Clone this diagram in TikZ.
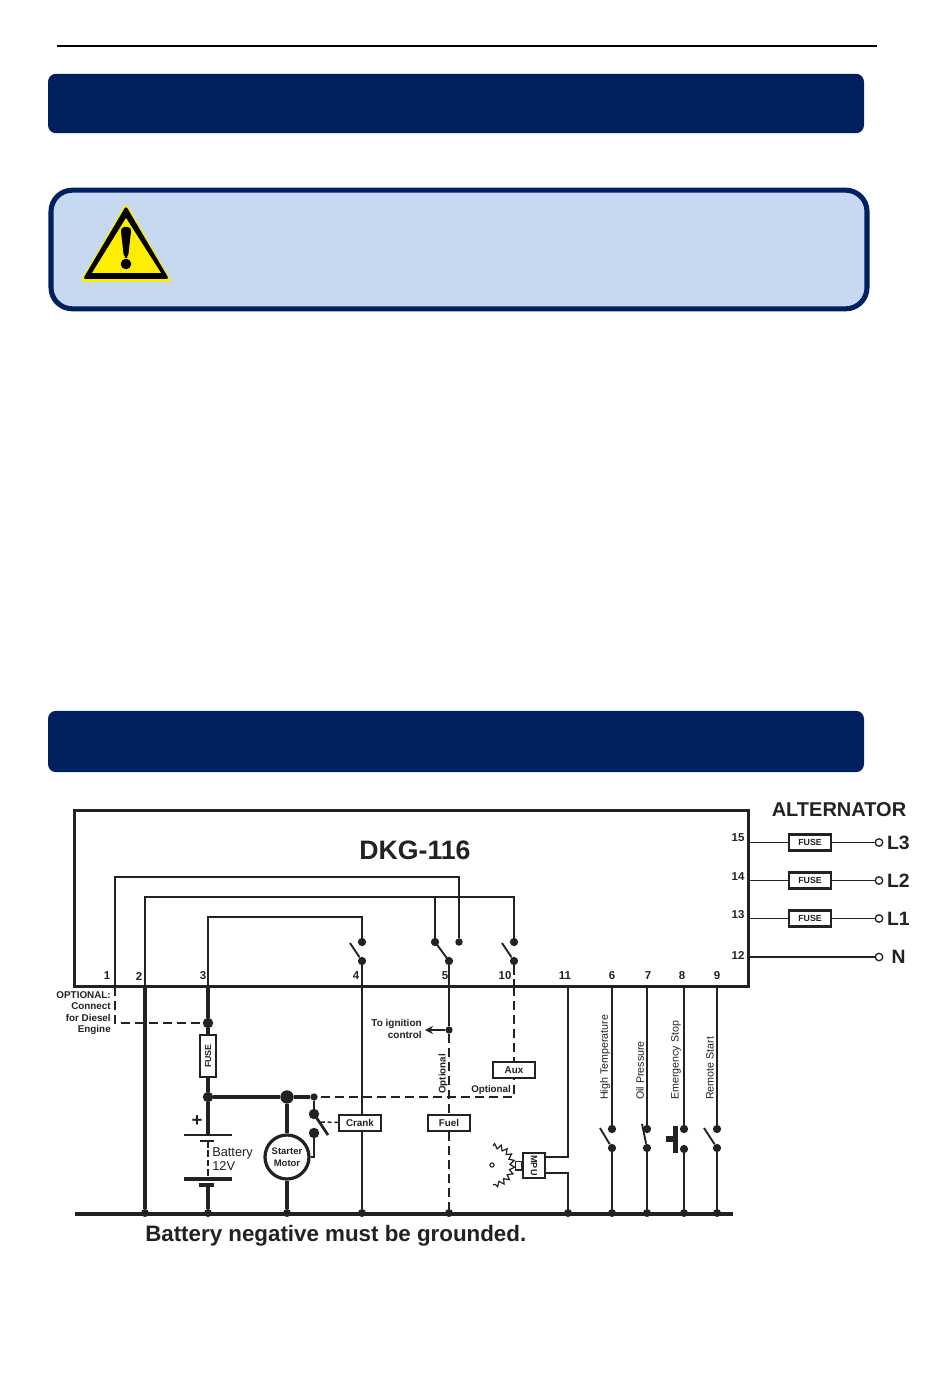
\documentclass[tikz,border=0pt]{standalone}
\usepackage{fontspec}
\setmainfont{Liberation Sans}
\usepackage{tikz}
\usetikzlibrary{arrows.meta, positioning, decorations.pathmorphing}
\definecolor{HeaderBlue}{HTML}{002060}
\definecolor{NoteBlue}{HTML}{C6D9F0}
\definecolor{SignYellow}{HTML}{FFED00}
\definecolor{InkGrey}{HTML}{222222}
\tikzset{
  headerbar/.style={rectangle, rounded corners=6pt, draw=none, fill=HeaderBlue},
  notebox/.style={rectangle, rounded corners=16pt, draw=HeaderBlue, line width=3.8pt, fill=NoteBlue},
  unitbox/.style={rectangle, draw=InkGrey, line width=2.4pt, inner sep=0pt},
  wire/.style={draw=InkGrey, line width=0.95pt},
  thinwire/.style={draw=InkGrey, line width=1.4pt},
  heavywire/.style={draw=InkGrey, line width=2.6pt},
  optwire/.style={draw=InkGrey, line width=1.1pt, dash pattern=on 7pt off 3.5pt},
  arm/.style={draw=InkGrey, line width=1.4pt},
  dot/.style={circle, fill=InkGrey, inner sep=0pt, minimum size=6.2pt},
  bigdot/.style={circle, fill=InkGrey, inner sep=0pt, minimum size=7.8pt},
  smalldot/.style={circle, fill=InkGrey, inner sep=0pt, minimum size=5pt},
  gnddot/.style={circle, fill=InkGrey, inner sep=0pt, minimum size=6pt},
  terminal/.style={circle, draw=InkGrey, line width=1pt, fill=white, inner sep=0pt, minimum size=5.6pt},
  pinlabel/.style={font=\fontsize{8.6}{10}\selectfont\bfseries, text=InkGrey, inner sep=0pt},
  linelabel/.style={font=\fontsize{14.5}{16}\selectfont\bfseries, text=InkGrey, inner sep=0pt},
  smalllabel/.style={font=\fontsize{7.4}{8.6}\selectfont\bfseries, text=InkGrey, inner sep=0pt, align=right},
  sidelabel/.style={font=\fontsize{8}{9}\selectfont, text=InkGrey, inner sep=0pt, rotate=90, anchor=west},
  fusebox/.style={rectangle, draw=InkGrey, line width=1.6pt, fill=white, minimum width=31pt, minimum height=12pt, inner sep=0pt, font=\fontsize{6.6}{8}\selectfont\bfseries, text=InkGrey},
  relaybox/.style={rectangle, draw=InkGrey, line width=1.5pt, fill=white, minimum width=31pt, minimum height=11.5pt, inner sep=0pt, font=\fontsize{7.4}{8}\selectfont\bfseries, text=InkGrey}
}
\begin{document}
\begin{tikzpicture}[x=0.75pt, y=-0.75pt]
  \useasboundingbox (0,0) rectangle (950,1387);
  \fill[white] (0,0) rectangle (950,1387);

  % page furniture
  \coordinate (ruleL) at (57,46);
  \coordinate (ruleR) at (877,46);
  \draw[line width=0.8pt, black] (ruleL) -- (ruleR);
  \node[headerbar, minimum width=612pt, minimum height=44.5pt] (bar1) at (456,103.5) {};
  \node[notebox, minimum width=612pt, minimum height=89pt] (note) at (459,249.5) {};
  \node[headerbar, minimum width=612pt, minimum height=46pt] (bar2) at (456,741.5) {};

  % warning sign
  \fill[SignYellow, rounded corners=3pt] (126,203) -- (172,282) -- (80,282) -- cycle;
  \fill[black, rounded corners=2pt] (126,206) -- (169,279) -- (83,279) -- cycle;
  \fill[SignYellow] (126,218) -- (161,273) -- (92,273) -- cycle;
  \fill[black, rounded corners=3pt] (120.5,227) -- (131.5,227) -- (128,258) -- (124,258) -- cycle;
  \fill[black] (126,264) circle[radius=5.3];

  % controller frame
  \node[unitbox, minimum width=505.5pt, minimum height=131.5pt] (dkg) at (411.5,898.5) {};
  \node[font=\fontsize{20}{22}\selectfont\bfseries, text=InkGrey, inner sep=0pt] (title) at (415,850) {DKG-116};
  \node[font=\fontsize{15}{17}\selectfont\bfseries, text=InkGrey, inner sep=0pt] (alt) at (839,810) {ALTERNATOR};

  % pin numbers
  \node[pinlabel] (p1) at (107,976) {1};
  \node[pinlabel] (p2) at (139,976) {2};
  \node[pinlabel] (p3) at (203,976) {3};
  \node[pinlabel] (p4) at (356,976) {4};
  \node[pinlabel] (p5) at (445,976) {5};
  \node[pinlabel] (p10) at (505,976) {10};
  \node[pinlabel] (p11) at (565,976) {11};
  \node[pinlabel] (p6) at (612,976) {6};
  \node[pinlabel] (p7) at (648,976) {7};
  \node[pinlabel] (p8) at (682,976) {8};
  \node[pinlabel] (p9) at (717,976) {9};
  \node[pinlabel] (p15) at (738,838) {15};
  \node[pinlabel] (p14) at (738,877) {14};
  \node[pinlabel] (p13) at (738,915) {13};
  \node[pinlabel] (p12) at (738,955) {12};

  % alternator side
  \coordinate (t15) at (749,842.5);
  \coordinate (t14) at (749,880.5);
  \coordinate (t13) at (749,918.5);
  \coordinate (t12) at (749,957);
  \node[fusebox] (f15) at (810,842.5) {FUSE};
  \node[fusebox] (f14) at (810,880.5) {FUSE};
  \node[fusebox] (f13) at (810,918.5) {FUSE};
  \node[terminal] (l3) at (879,842.5) {};
  \node[terminal] (l2) at (879,880.5) {};
  \node[terminal] (l1) at (879,918.5) {};
  \node[terminal] (ln) at (879,957) {};
  \node[linelabel, right=2.5pt of l3] (l3t) {L3};
  \node[linelabel, right=2.5pt of l2] (l2t) {L2};
  \node[linelabel, right=2.5pt of l1] (l1t) {L1};
  \node[linelabel, right=6pt of ln] (lnt) {N};
  \draw[wire] (t15) -- (f15) -- (l3);
  \draw[thinwire] (t14) -- (f14) -- (l2);
  \draw[wire] (t13) -- (f13) -- (l1);
  \draw[wire] (t12) -- (ln);

  % pin terminals on the frame
  \coordinate (t1) at (115,987);
  \coordinate (t2) at (145,987);
  \coordinate (t3) at (208,987);
  \coordinate (t4) at (362,987);
  \coordinate (t5) at (449,987);
  \coordinate (t10) at (514,987);
  \coordinate (t11) at (568,987);
  \coordinate (t6) at (612,987);
  \coordinate (t7) at (647,987);
  \coordinate (t8) at (684,987);
  \coordinate (t9) at (717,987);

  % switches inside the frame
  \node[dot] (s4a) at (362,942) {};
  \node[dot] (s4b) at (362,961) {};
  \node[dot] (s5a) at (435,942) {};
  \node[dot, minimum size=5.6pt] (s5c) at (459,942) {};
  \node[dot] (s5b) at (449,961) {};
  \node[dot] (s10a) at (514,942) {};
  \node[dot] (s10b) at (514,961) {};
  \coordinate (arm4) at (350,943);
  \coordinate (arm10) at (502,943);
  \draw[arm] (arm4) -- (s4b);
  \draw[arm] (s5a.center) -- (s5b.center);
  \draw[arm] (arm10) -- (s10b);

  % supply loops
  \coordinate (c1) at (115,877);
  \coordinate (c1r) at (459,877);
  \coordinate (c2) at (145,897);
  \coordinate (c2m) at (435,897);
  \coordinate (c2r) at (514,897);
  \coordinate (c3) at (208,917);
  \coordinate (c3r) at (362,917);
  \draw[wire] (t1) -- (c1) -- (c1r) -- (s5c);
  \draw[wire] (t2) -- (c2) -- (c2r) -- (s10a);
  \draw[wire] (c2m) -- (s5a);
  \draw[wire] (t3) -- (c3) -- (c3r) -- (s4a);
  \draw[wire] (s4b) -- (t4);
  \draw[wire] (s5b) -- (t5);
  \draw[optwire] (s10b) -- (t10);

  % ground bar
  \coordinate (gndL) at (75,1214);
  \coordinate (gndR) at (733,1214);
  \draw[heavywire] (gndL) -- (gndR);
  \node[gnddot] (g2) at (145,1213) {};
  \node[gnddot] (g3) at (208,1213) {};
  \node[gnddot] (gm) at (287,1213) {};
  \node[gnddot] (g4) at (362,1213) {};
  \node[gnddot] (g5) at (449,1213) {};
  \node[gnddot] (g11) at (568,1213) {};
  \node[gnddot] (g6) at (612,1213) {};
  \node[gnddot] (g7) at (647,1213) {};
  \node[gnddot] (g8) at (684,1213) {};
  \node[gnddot] (g9) at (717,1213) {};
  \node[font=\fontsize{16.75}{18}\selectfont\bfseries, text=InkGrey, inner sep=0pt, anchor=west] (gndnote) at (145,1235.5) {Battery negative must be grounded.};
  \draw[heavywire] (t2) -- (g2);

  % battery feed
  \node[bigdot] (j1) at (208,1023) {};
  \node[bigdot] (j2) at (208,1097) {};
  \node[bigdot, minimum size=10pt] (j3) at (287,1097) {};
  \node[smalldot, minimum size=5.5pt] (j4) at (314,1097) {};
  \node[fusebox, rotate=90] (f3) at (208,1056) {FUSE};
  \draw[heavywire] (t3) -- (j1) -- (f3) -- (j2) -- (j3) -- (j4);
  \node[smalllabel, anchor=north east] (optnote) at (111,991) {OPTIONAL:\\Connect\\for Diesel\\Engine};
  \coordinate (c1d) at (115,1023);
  \draw[optwire] (t1) -- (c1d) -- (j1);

  % battery
  \coordinate (b1) at (208,1135);
  \coordinate (b1L) at (184,1135);
  \coordinate (b1R) at (232,1135);
  \coordinate (b2) at (208,1141);
  \coordinate (b2L) at (200,1141);
  \coordinate (b2R) at (214,1141);
  \coordinate (b3) at (208,1179);
  \coordinate (b3L) at (184,1179);
  \coordinate (b3R) at (232,1179);
  \coordinate (b4) at (208,1185);
  \coordinate (b4L) at (199,1185);
  \coordinate (b4R) at (214,1185);
  \draw[heavywire] (j2) -- (b1);
  \draw[line width=2pt, InkGrey] (b1L) -- (b1R);
  \draw[line width=2pt, InkGrey] (b2L) -- (b2R);
  \draw[line width=2.2pt, InkGrey, dash pattern=on 5pt off 2pt] (b2) -- (b3);
  \draw[line width=2.6pt, InkGrey] (b3L) -- (b3R);
  \draw[line width=2.6pt, InkGrey] (b4L) -- (b4R);
  \draw[heavywire] (b4) -- (g3);
  \node[font=\fontsize{14}{14}\selectfont\bfseries, text=InkGrey, inner sep=0pt] (plus) at (197,1121) {+};
  \node[font=\fontsize{9.6}{10.4}\selectfont, text=InkGrey, inner sep=0pt, align=left, anchor=west] (battxt) at (212,1159) {Battery\\12V};

  % starter motor and crank relay
  \node[circle, draw=InkGrey, line width=2.4pt, fill=white, minimum size=33pt, inner sep=0pt, font=\fontsize{7.1}{8.6}\selectfont\bfseries, text=InkGrey, align=center] (motor) at (287,1157) {Starter\\Motor};
  \draw[heavywire] (j3) -- (motor);
  \draw[heavywire] (motor) -- (gm);
  \node[bigdot] (cr1) at (314,1114) {};
  \node[bigdot] (cr2) at (314,1133) {};
  \coordinate (crArm) at (328,1135);
  \coordinate (crTap) at (321,1122);
  \coordinate (crCor) at (314,1157);
  \draw[draw=InkGrey, line width=1.8pt] (j4) -- (cr1);
  \draw[line width=2pt, InkGrey] (cr1.center) -- (crArm);
  \draw[draw=InkGrey, line width=1.8pt] (cr2) -- (crCor) -- (motor.east |- crCor);
  \draw[wire] (t4) -- (g4);
  \node[relaybox] (crank) at (360,1123) {Crank};
  \draw[optwire, dash pattern=on 3pt off 2pt] (crTap) -- (crank);

  % fuel and ignition
  \node[smalldot, minimum size=5.5pt] (ign) at (449,1030) {};
  \coordinate (ignTip) at (425,1030);
  \draw[wire, -{Stealth[length=6pt,width=6pt]}] (ign) -- (ignTip);
  \node[smalllabel, anchor=east, font=\fontsize{7.5}{8.4}\selectfont\bfseries] (igntxt) at (422,1029) {To ignition\\control};
  \draw[wire] (t5) -- (ign);
  \draw[optwire] (ign) -- (g5);
  \node[relaybox] (fuel) at (449,1123) {Fuel};
  \node[font=\fontsize{7.3}{8}\selectfont\bfseries, text=InkGrey, inner sep=0pt, rotate=90] (opt1) at (443,1074) {Optional};
  \node[font=\fontsize{7.3}{8}\selectfont\bfseries, text=InkGrey, inner sep=0pt] (opt2) at (491,1090) {Optional};

  % aux output
  \coordinate (auxCor) at (514,1097);
  \draw[optwire] (t10) -- (auxCor) -- (j4);
  \node[relaybox] (aux) at (514,1070) {Aux};

  % magnetic pickup
  \coordinate (mpuA) at (545,1157);
  \coordinate (mpuB) at (545,1173);
  \coordinate (c11a) at (568,1157);
  \coordinate (c11b) at (568,1173);
  \node[rectangle, draw=InkGrey, line width=1.1pt, fill=white, minimum width=19pt, minimum height=16.5pt, inner sep=0pt, rotate=-90, font=\fontsize{6.8}{8}\selectfont\bfseries, text=InkGrey] (mpu) at (534,1165.5) {MPU};
  \node[rectangle, draw=InkGrey, line width=1pt, fill=white, minimum width=4.5pt, minimum height=6.5pt, inner sep=0pt, left=0pt of mpu.south] (mpuhead) {};
  \draw[wire] (t11) -- (c11a) -- (mpuA);
  \draw[wire] (mpuB) -- (c11b) -- (g11);
  \node[circle, draw=InkGrey, line width=0.8pt, inner sep=0pt, minimum size=3.2pt] (hub) at (492,1165) {};
  \coordinate (gearTop) at (493,1146);
  \draw[draw=InkGrey, line width=0.9pt, decorate, decoration={zigzag, segment length=4.6pt, amplitude=1.8pt}] (gearTop) arc[start angle=90, end angle=-90, radius=14.5pt];

  % input contacts
  \node[dot] (s6a) at (612,1129) {};
  \node[dot] (s6b) at (612,1148) {};
  \node[dot] (s7a) at (647,1129) {};
  \node[dot] (s7b) at (647,1148) {};
  \node[dot] (s8a) at (684,1129) {};
  \node[dot] (s8b) at (684,1149) {};
  \node[dot] (s9a) at (717,1129) {};
  \node[dot] (s9b) at (717,1148) {};
  \coordinate (arm6) at (600,1128);
  \coordinate (arm7) at (642,1124);
  \coordinate (arm9) at (704,1128);
  \draw[arm] (arm6) -- (s6b);
  \draw[arm] (arm7) -- (s7b);
  \draw[arm] (arm9) -- (s9b);
  \draw[wire] (t6) -- (s6a);
  \draw[wire] (s6b) -- (g6);
  \draw[thinwire] (t7) -- (s7a);
  \draw[thinwire] (s7b) -- (g7);
  \draw[wire] (t8) -- (s8a);
  \draw[wire] (s8b) -- (g8);
  \draw[wire] (t9) -- (s9a);
  \draw[wire] (s9b) -- (g9);
  \fill[InkGrey] (673,1126) rectangle (678,1153);
  \fill[InkGrey] (666,1136) rectangle (673,1142);
  \node[sidelabel] (lab6) at (605,1100) {High Temperature};
  \node[sidelabel] (lab7) at (640,1100) {Oil Pressure};
  \node[sidelabel] (lab8) at (676,1100) {Emergency Stop};
  \node[sidelabel] (lab9) at (710,1100) {Remote Start};
\end{tikzpicture}
\end{document}
